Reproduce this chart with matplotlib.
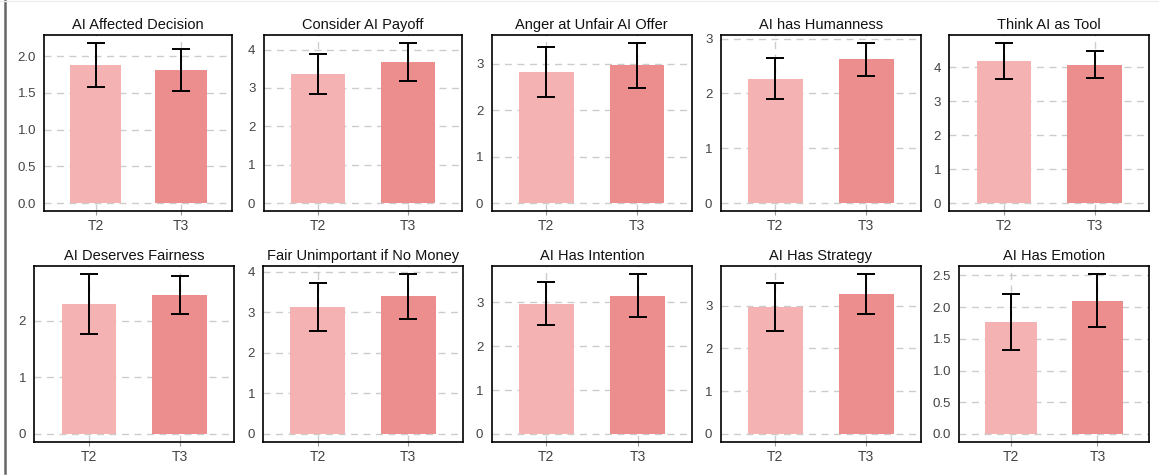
import matplotlib
matplotlib.use("Agg")
import matplotlib.pyplot as plt
from matplotlib.lines import Line2D

plt.rcParams['font.family'] = ['Liberation Sans', 'DejaVu Sans']

TITLES = ["AI Affected Decision", "Consider AI Payoff", "Anger at Unfair AI Offer",
          "AI has Humanness", "Think AI as Tool",
          "AI Deserves Fairness", "Fair Unimportant if No Money", "AI Has Intention",
          "AI Has Strategy", "AI Has Emotion"]
GROUPS = ["T2", "T3"]
T2_MEAN = [1.88, 3.36, 2.82, 2.27, 4.18, 2.30, 3.12, 2.96, 2.96, 1.76]
T2_ERR = [0.30, 0.53, 0.54, 0.38, 0.53, 0.53, 0.59, 0.49, 0.56, 0.44]
T3_MEAN = [1.81, 3.67, 2.97, 2.62, 4.07, 2.46, 3.39, 3.15, 3.27, 2.10]
T3_ERR = [0.29, 0.50, 0.48, 0.30, 0.40, 0.33, 0.55, 0.49, 0.47, 0.42]
Y_TICKS = [[0.0, 0.5, 1.0, 1.5, 2.0], [0, 1, 2, 3, 4], [0, 1, 2, 3], [0, 1, 2, 3],
           [0, 1, 2, 3, 4], [0, 1, 2], [0, 1, 2, 3, 4], [0, 1, 2, 3], [0, 1, 2, 3],
           [0.0, 0.5, 1.0, 1.5, 2.0, 2.5]]

COLORS = ["#F4B2B2", "#EC8E8E"]

W, H = 1159, 475
fig = plt.figure(figsize=(W / 100, H / 100), dpi=100)

# panel boxes in pixels: (left, right) per column, (top, bottom) per row
cols_row1 = [(44.3, 232.3), (263.7, 462.3), (491.7, 691.7), (720.7, 921), (949.3, 1149.3)]
cols_row2 = [(34.3, 234.3), (263.3, 462.7), (491.7, 692.3), (720.7, 921), (959.3, 1149.3)]
rows = [(35, 211), (266, 442)]

for i, title in enumerate(TITLES):
    r = i // 5
    c = i % 5
    left, right = (cols_row1 if r == 0 else cols_row2)[c]
    top, bottom = rows[r]
    ax = fig.add_axes([left / W, 1 - bottom / H, (right - left) / W, (bottom - top) / H])

    means = [T2_MEAN[i], T3_MEAN[i]]
    errs = [T2_ERR[i], T3_ERR[i]]
    x = [0, 1]
    ax.bar(x, means, width=0.6, color=COLORS, zorder=2)
    ax.errorbar(x, means, yerr=errs, fmt='none', ecolor='black', elinewidth=1.4,
                capsize=6.5, capthick=1.4, zorder=3)

    ymax = max(m + e for m, e in zip(means, errs))
    ax.set_ylim(-0.05 * ymax, 1.05 * ymax)
    ax.set_xlim(-0.6, 1.6)
    ax.set_xticks(x)
    ax.set_xticklabels(GROUPS)
    yt = Y_TICKS[i]
    ax.set_yticks(yt)
    if isinstance(yt[0], float):
        ax.set_yticklabels(["%.1f" % v for v in yt])

    ax.grid(True, linestyle=(0, (5, 4)), color='#cccccc', linewidth=1.0, zorder=0)
    ax.set_axisbelow(True)
    ax.tick_params(axis='y', length=0, pad=6, labelsize=9.5, labelcolor='#444444')
    ax.tick_params(axis='x', length=3, width=0.8, color='#999999', pad=3,
                   labelsize=10, labelcolor='#444444')
    for s in ax.spines.values():
        s.set_color('black')
        s.set_linewidth(1.2)
    ax.set_title(title, fontsize=10.5, pad=4.5, color='#111111')

# page edge lines
fig.add_artist(Line2D([4.5 / W, 4.5 / W], [2 / H, 1], color='#666666', linewidth=1.8))
fig.add_artist(Line2D([0, 1], [1 - 1 / H, 1 - 1 / H], color='#eeeeee', linewidth=1.0))

fig.savefig("out.png", dpi=100)
